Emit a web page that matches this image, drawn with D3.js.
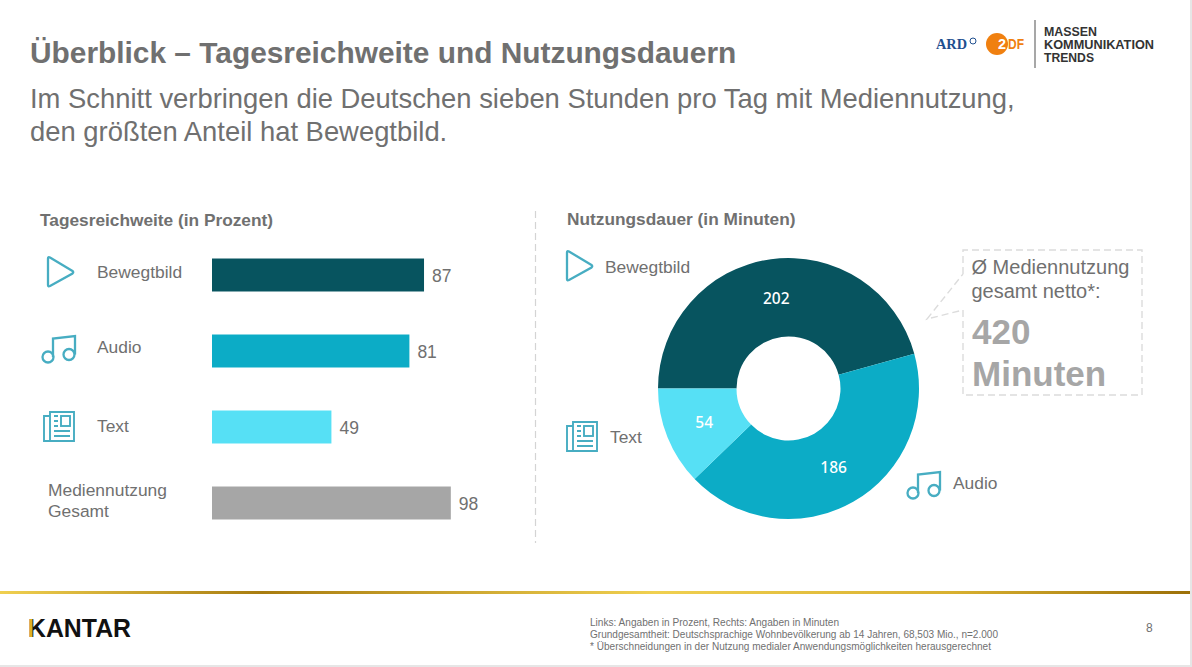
<!DOCTYPE html>
<html>
<head>
<meta charset="utf-8">
<script src="https://cdn.jsdelivr.net/npm/d3@7"></script>
<style>
  html, body { margin: 0; padding: 0; background: #fff; overflow: hidden; }
  text { font-family: "Liberation Sans", Arial, sans-serif; fill: #707070; }
</style>
</head>
<body>
<div id="chart"></div>
<script>
// Data
const reachCategories = ["Bewegtbild", "Audio", "Text", "Gesamt"];
const reachValues = [87, 81, 49, 98];
const reachColors = ["#07545f", "#0cacc6", "#56e0f5", "#a6a6a6"];

const durationCategories = ["Bewegtbild", "Audio", "Text"];
const durationValues = [202, 186, 54];
const durationColors = ["#07545f", "#0cacc6", "#56e0f5"];

const footnotes = [
  "Links: Angaben in Prozent, Rechts: Angaben in Minuten",
  "Grundgesamtheit: Deutschsprachige Wohnbevölkerung ab 14 Jahren, 68,503 Mio., n=2.000",
  "* Überschneidungen in der Nutzung medialer Anwendungsmöglichkeiten herausgerechnet"
];
const footnoteWidths = [249, 408, 401];

const width = 1192, height = 667;
const iconColor = "#47adc2";

const svg = d3.select("#chart").append("svg")
  .attr("width", width)
  .attr("height", height)
  .style("display", "block");

const defs = svg.append("defs");
const gold = defs.append("linearGradient").attr("id", "gold");
[[0, "#f0d050"], [0.22, "#a87c10"], [0.55, "#f0d050"], [0.8, "#d8b030"], [1, "#9c7008"]].forEach(s => {
  gold.append("stop").attr("offset", s[0]).attr("stop-color", s[1]);
});

function addText(x, y, str, size, opts = {}) {
  return svg.append("text")
    .attr("x", x).attr("y", y)
    .attr("font-size", size)
    .attr("font-weight", opts.bold ? "bold" : null)
    .attr("text-anchor", opts.anchor || "start")
    .style("fill", opts.fill || null)
    .text(str);
}

// Header
addText(30, 63, "Überblick – Tagesreichweite und Nutzungsdauern", 29.87, {bold: true});
addText(30, 108, "Im Schnitt verbringen die Deutschen sieben Stunden pro Tag mit Mediennutzung,", 27.4);
addText(30, 141, "den größten Anteil hat Bewegtbild.", 27.4);

// Logos
const logo = svg.append("g");
logo.append("text").attr("x", 936).attr("y", 49).attr("font-size", 15).attr("font-weight", "bold")
  .attr("textLength", 31).attr("lengthAdjust", "spacingAndGlyphs")
  .style("font-family", "'Liberation Serif', serif").style("fill", "#1f4f8f").text("ARD");
logo.append("circle").attr("cx", 973).attr("cy", 41).attr("r", 3).attr("fill", "none").attr("stroke", "#1f4f8f");
logo.append("circle").attr("cx", 997).attr("cy", 44).attr("r", 11).attr("fill", "#f08010");
logo.append("text").attr("x", 998).attr("y", 49).attr("font-size", 14).attr("font-weight", "bold")
  .attr("textLength", 8).attr("lengthAdjust", "spacingAndGlyphs")
  .style("fill", "#fff").text("2");
logo.append("text").attr("x", 1008).attr("y", 49).attr("font-size", 14).attr("font-weight", "bold")
  .attr("textLength", 16).attr("lengthAdjust", "spacingAndGlyphs")
  .style("fill", "#f08010").text("DF");
logo.append("line").attr("x1", 1035).attr("x2", 1035).attr("y1", 20).attr("y2", 68)
  .attr("stroke", "#8a8a8a").attr("stroke-width", 1.5);
["MASSEN", "KOMMUNIKATION", "TRENDS"].forEach((t, i) => {
  logo.append("text").attr("x", 1044).attr("y", 36 + i * 13).attr("font-size", 13).attr("font-weight", "bold")
    .attr("textLength", [53, 110, 50][i]).attr("lengthAdjust", "spacingAndGlyphs")
    .style("fill", "#333").text(t);
});

// Icons, drawn around a local origin
function playIcon(x, y) {
  svg.append("path")
    .attr("transform", `translate(${x},${y})`)
    .attr("d", "M-12,-13.5 L-12,13 Q-12,15 -10,14 L12.5,1.5 Q14,0 12.5,-1 L-10,-14.5 Q-12,-15.5 -12,-13.5 Z")
    .attr("fill", "none").attr("stroke", iconColor).attr("stroke-width", 2.3);
}
function musicIcon(x, y) {
  const g = svg.append("g").attr("transform", `translate(${x},${y})`)
    .attr("fill", "none").attr("stroke", iconColor).attr("stroke-width", 2.3);
  g.append("circle").attr("cx", -11).attr("cy", 9).attr("r", 5.5);
  g.append("circle").attr("cx", 10).attr("cy", 6.5).attr("r", 5.5);
  g.append("path").attr("d", "M-6,9 L-6,-9.5 L16,-12 L16,6.5");
}
function newsIcon(x, y) {
  const g = svg.append("g").attr("transform", `translate(${x},${y})`)
    .attr("fill", "none").attr("stroke", iconColor).attr("stroke-width", 1.9);
  g.append("path").attr("d", "M-9,-10 L-15,-10 L-15,15 L15,15 L15,-14 L-9,-14 L-9,15");
  g.append("rect").attr("x", 2).attr("y", -10).attr("width", 9).attr("height", 10);
  g.append("path").attr("d", "M-5,-10 H-1 M-5,-5 H-1 M-5,0 H-1 M-5,5 H11 M-5,10 H11");
}

// Left chart: reach bars
addText(40, 226, "Tagesreichweite (in Prozent)", 17.3, {bold: true});

const x = d3.scaleLinear().domain([0, 100]).range([212, 455.7]);
const y = d3.scaleBand().domain(reachCategories).range([237, 541]).paddingInner(0.566).paddingOuter(0.283);
const reach = reachCategories.map((c, i) => ({cat: c, val: reachValues[i], color: reachColors[i]}));

svg.selectAll("rect.bar").data(reach).enter().append("rect")
  .attr("class", "bar")
  .attr("x", x(0))
  .attr("y", d => y(d.cat))
  .attr("width", d => x(d.val) - x(0))
  .attr("height", y.bandwidth())
  .attr("fill", d => d.color);

svg.selectAll("text.val").data(reach).enter().append("text")
  .attr("class", "val")
  .attr("x", d => x(d.val) + 8)
  .attr("y", d => y(d.cat) + y.bandwidth() / 2 + 7)
  .attr("font-size", 17.5)
  .text(d => d.val);

addText(97, 278, "Bewegtbild", 17.4);
addText(97, 353, "Audio", 17.4);
addText(97, 432, "Text", 17.4);
addText(48, 496, "Mediennutzung", 17.4);
addText(48, 517, "Gesamt", 17.4);
playIcon(60, 272);
musicIcon(59, 348);
newsIcon(59, 426);

// Divider
svg.append("line").attr("x1", 535.5).attr("x2", 535.5).attr("y1", 211).attr("y2", 543)
  .attr("stroke", "#d4d4d4").attr("stroke-width", 1.2).attr("stroke-dasharray", "7 4");

// Right chart: duration donut
addText(567, 225, "Nutzungsdauer (in Minuten)", 17.3, {bold: true});

const duration = durationCategories.map((c, i) => ({cat: c, val: durationValues[i], color: durationColors[i]}));
const pie = d3.pie().value(d => d.val).sort(null).startAngle(-Math.PI / 2).endAngle(Math.PI * 1.5);
const arc = d3.arc().innerRadius(52).outerRadius(130.5);
const donut = svg.append("g").attr("transform", "translate(788.5,388.5)");
const arcs = pie(duration);

donut.selectAll("path").data(arcs).enter().append("path")
  .attr("d", arc)
  .attr("fill", d => d.data.color);

const labelArc = d3.arc().innerRadius(91).outerRadius(91);
donut.selectAll("text").data(arcs).enter().append("text")
  .attr("transform", d => `translate(${labelArc.centroid(d)})`)
  .attr("text-anchor", "middle")
  .attr("dy", "0.35em")
  .attr("font-size", 15.5)
  .attr("font-weight", 500)
  .style("font-family", "'Noto Sans', sans-serif")
  .style("fill", "#fff")
  .text(d => d.data.val);

addText(605, 273, "Bewegtbild", 17.4);
addText(953, 489, "Audio", 17.4);
addText(610, 443, "Text", 17.4);
playIcon(579, 266);
musicIcon(924, 484);
newsIcon(582, 436);

// Callout box
svg.append("path")
  .attr("d", "M963,274 L963,250 L1142,250 L1142,395 L963,395 L963,310 L927,319 L963,274")
  .attr("fill", "none").attr("stroke", "#dcdcdc").attr("stroke-width", 1.4).attr("stroke-dasharray", "7 4");
addText(971.5, 274, "Ø Mediennutzung", 20);
addText(971.5, 298, "gesamt netto*:", 20);
addText(972, 344, "420", 35, {bold: true, fill: "#a6a6a6"});
addText(972, 386, "Minuten", 35, {bold: true, fill: "#a6a6a6"});

// Footer
svg.append("rect").attr("x", 0).attr("y", 591).attr("width", 1190).attr("height", 3).attr("fill", "url(#gold)");
svg.append("rect").attr("x", 1190).attr("y", 0).attr("width", 2).attr("height", height).attr("fill", "#e6e6e6");
svg.append("rect").attr("x", 0).attr("y", 665).attr("width", width).attr("height", 2).attr("fill", "#e6e6e6");

svg.append("text").attr("x", 28).attr("y", 637).attr("font-size", 25).attr("font-weight", "bold")
  .attr("textLength", 103).attr("lengthAdjust", "spacingAndGlyphs").style("fill", "#111").text("KANTAR");
svg.append("rect").attr("x", 30).attr("y", 619).attr("width", 2.5).attr("height", 18).attr("fill", "#e0b020");

footnotes.forEach((t, i) => {
  svg.append("text").attr("x", 590).attr("y", 626 + i * 12).attr("font-size", 10.5)
    .attr("textLength", footnoteWidths[i]).attr("lengthAdjust", "spacingAndGlyphs").text(t);
});
addText(1146, 632, "8", 12);
</script>
</body>
</html>
